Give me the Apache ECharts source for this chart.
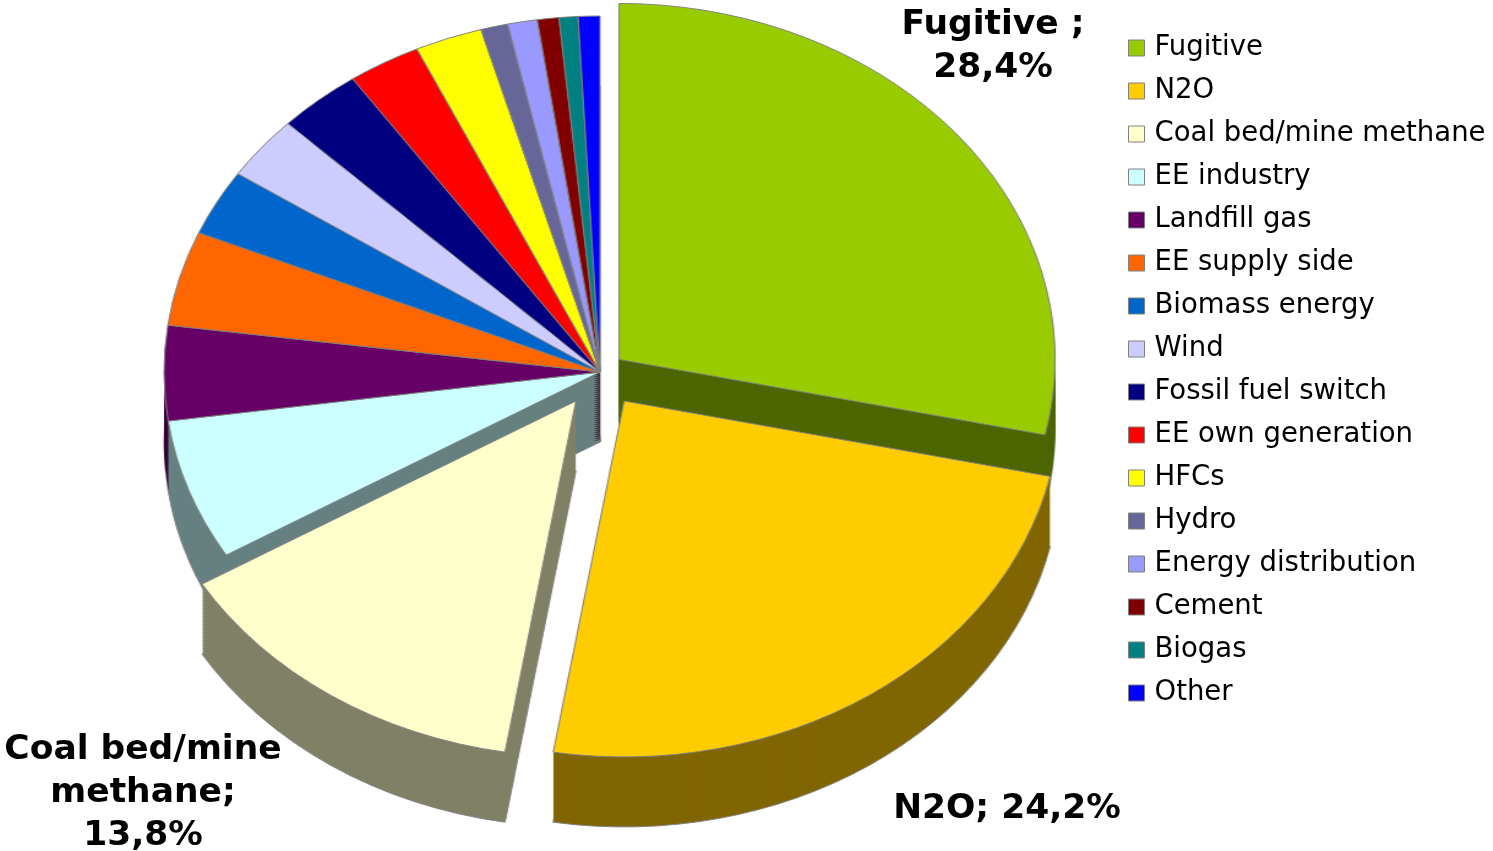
<!DOCTYPE html>
<html>
<head>
<meta charset="utf-8">
<script src="https://cdn.jsdelivr.net/npm/echarts@6/dist/echarts.min.js"></script>
<style>
  html, body { margin: 0; padding: 0; background: #ffffff; }
  #wrap { position: relative; width: 1493px; height: 851px; overflow: hidden; }
  #pie { position: absolute; left: 0; top: 0; width: 1493px; height: 851px;
         transform: scaleX(1.2247); transform-origin: 600px 372px; }
  #main { position: absolute; left: 0; top: 0; width: 1493px; height: 851px; }
</style>
</head>
<body>
<div id="wrap">
  <div id="pie"></div>
  <div id="main"></div>
</div>
<script>
// ---- data ----
const categories = ['Fugitive', 'N2O', 'Coal bed/mine methane', 'EE industry', 'Landfill gas',
  'EE supply side', 'Biomass energy', 'Wind', 'Fossil fuel switch', 'EE own generation',
  'HFCs', 'Hydro', 'Energy distribution', 'Cement', 'Biogas', 'Other'];
const shares = [28.4, 24.2, 13.8, 6.4, 4.3, 4.3, 3.0, 2.9, 3.1, 2.7, 2.5, 1.0, 1.1, 0.8, 0.7, 0.8];
const colors = ['#99cc00', '#ffcc00', '#ffffcc', '#ccffff', '#660066', '#ff6600', '#0066cc',
  '#ccccff', '#000080', '#ff0000', '#ffff00', '#666699', '#9999ff', '#800000', '#008080', '#0000ff'];
const exploded = ['Fugitive', 'N2O', 'Coal bed/mine methane'];
const explodeOffsets = [20, 35, 35];
const labelNames = ['Fugitive ;', 'N2O;', 'Coal bed/mine\nmethane;'];
const labelSeparators = ['\n', ' ', '\n'];

// ---- styling helpers ----
function darken(hex) {
  const n = parseInt(hex.slice(1), 16);
  const r = Math.round(((n >> 16) & 255) / 2), g = Math.round(((n >> 8) & 255) / 2), b = Math.round((n & 255) / 2);
  return 'rgb(' + r + ',' + g + ',' + b + ')';
}
const CX = 600, CY = 372, R = 356, DEPTH = 70, STEP = 2;
const groupOffsets = Array.from(new Set(explodeOffsets));

function offsetOf(name) {
  const k = exploded.indexOf(name);
  return k >= 0 ? explodeOffsets[k] : null;
}
function pieData(dark, gi, withBorder) {
  return categories.map((name, i) => {
    const o = offsetOf(name);
    const visible = (o === groupOffsets[gi]) || (o === null && gi === 0);
    return {
      name: name,
      value: shares[i],
      selected: o !== null,
      itemStyle: visible
        ? { color: dark ? darken(colors[i]) : colors[i], borderColor: '#808080', borderWidth: withBorder ? 1 : 0 }
        : { color: 'rgba(0,0,0,0)', borderWidth: 0 }
    };
  });
}
function makeSeries(dy, dark, gi, withBorder) {
  return {
    type: 'pie',
    center: [CX, CY + dy],
    radius: [0, R],
    startAngle: 90,
    clockwise: true,
    silent: true,
    selectedMode: 'multiple',
    selectedOffset: groupOffsets[gi],
    label: { show: false },
    labelLine: { show: false },
    emphasis: { disabled: true },
    data: pieData(dark, gi, withBorder)
  };
}

const pieSeries = [];
for (let d = DEPTH; d > 0; d -= STEP) {
  for (let gi = 0; gi < groupOffsets.length; gi++) {
    pieSeries.push(makeSeries(d, true, gi, d === DEPTH));
  }
}
for (let gi = 0; gi < groupOffsets.length; gi++) {
  pieSeries.push(makeSeries(0, false, gi, true));
}

const pieChart = echarts.init(document.getElementById('pie'), null, { renderer: 'canvas' });
pieChart.setOption({ animation: false, series: pieSeries });

// ---- overlay: legend and labels ----
const labelSpots = { 0: [993, 47], 1: [1007, 809], 2: [143, 793] };
const main = echarts.init(document.getElementById('main'), null, { renderer: 'canvas' });
main.setOption({
  animation: false,
  legend: {
    orient: 'vertical',
    left: 1128,
    top: 34,
    padding: 0,
    itemWidth: 16,
    itemHeight: 16,
    itemGap: 15,
    selectedMode: false,
    icon: 'rect',
    itemStyle: { borderColor: '#808080', borderWidth: 1 },
    textStyle: { fontFamily: 'DejaVu Sans', fontSize: 27.5, lineHeight: 27, color: '#000000', padding: [0, 0, 0, 5] },
    data: categories
  },
  series: [{
    type: 'pie',
    center: [CX, CY],
    radius: [0, 0.5],
    startAngle: 90,
    silent: true,
    itemStyle: { borderWidth: 0 },
    emphasis: { disabled: true },
    labelLine: { show: false },
    label: { show: false },
    labelLayout: function (params) {
      const p = labelSpots[params.dataIndex];
      if (!p) return {};
      return { x: p[0], y: p[1], align: 'center', verticalAlign: 'middle' };
    },
    data: categories.map((name, i) => ({
      name: name,
      value: shares[i],
      itemStyle: { color: colors[i] },
      label: i < labelNames.length ? {
        show: true,
        position: 'outside',
        formatter: labelNames[i] + labelSeparators[i] + shares[i].toFixed(1).replace('.', ',') + '%',
        fontFamily: 'DejaVu Sans',
        fontWeight: 'bold',
        fontSize: 34.5,
        lineHeight: 43,
        color: '#000000',
        align: 'center'
      } : { show: false }
    }))
  }]
});
</script>
</body>
</html>
